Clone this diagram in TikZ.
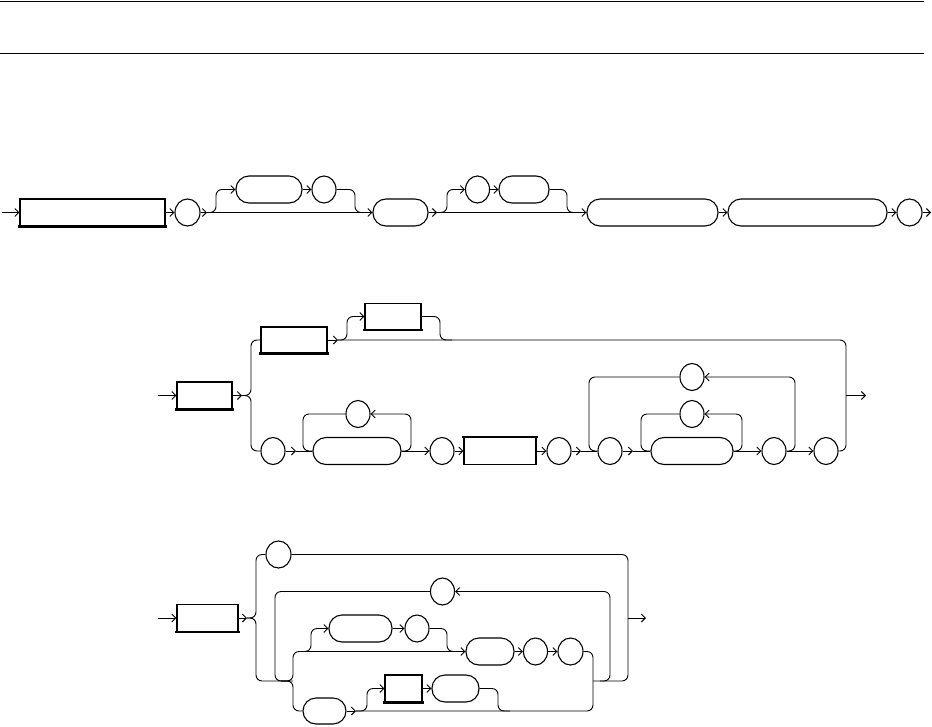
\documentclass[tikz,border=0pt]{standalone}
\usetikzlibrary{arrows.meta,shapes.geometric}
\begin{document}
\begin{tikzpicture}[x=1pt,y=-1pt]
\tikzset{
 base/.style={draw, line width=1.1pt, inner sep=0pt, minimum height=27pt, fill=white},
 nt/.style={base, rectangle},
 pill/.style={base, rectangle, rounded corners=13pt},
 circ/.style={base, ellipse, minimum width=25pt, minimum height=27pt},
 wire/.style={line width=0.9pt, rounded corners=6pt},
 arr/.style={-{Straight Barb[length=4pt,width=8pt]}},
 rule/.style={line width=1.2pt},
 heavy/.style={line width=2.4pt, line cap=rect}
}
\useasboundingbox (0,0) rectangle (932,726);
% header rules
\coordinate (h1a) at (0,1.5); \coordinate (h1b) at (924,1.5);
\coordinate (h2a) at (0,53.5); \coordinate (h2b) at (924,53.5);
\draw[rule] (h1a) -- (h1b);
\draw[rule] (h2a) -- (h2b);

% ---------------- diagram 1
\node[nt,minimum width=145pt] (a1) at (92.5,212.5) {};
\node[circ] (a2) at (187.5,212.5) {};
\node[pill,minimum width=66pt] (a3) at (269,189.5) {};
\node[circ,minimum width=24pt] (a4) at (324,189.5) {};
\node[pill,minimum width=55pt] (a5) at (400.5,212.5) {};
\node[circ,minimum width=24pt] (a6) at (477.5,189.5) {};
\node[pill,minimum width=50pt] (a7) at (524,189.5) {};
\node[pill,minimum width=131pt] (a8) at (652.5,212.5) {};
\node[pill,minimum width=159pt] (a9) at (807.5,212.5) {};
\node[circ] (a10) at (909.5,212.5) {};
\draw[heavy] (a1.south west) -- (a1.south east);
\coordinate (a0) at (2,212.5);
\coordinate (aE) at (931,212.5);
\coordinate (aj1) at (207,212.5);
\coordinate (aj2) at (437,212.5);
\draw[wire,arr] (a0) -- (a1.west);
\draw[wire,arr] (a1.east) -- (a2.west);
\draw[wire,arr] (a2.east) -- (aj1);
\draw[wire,arr] (aj1) -- (a5.west);
\draw[wire,arr] (aj1) -- (216,212.5) |- (a3.west);
\draw[wire,arr] (a3.east) -- (a4.west);
\draw[wire] (a4.east) -- (355,189.5) |- (a5.west);
\draw[wire,arr] (a5.east) -- (aj2);
\draw[wire,arr] (aj2) -- (a8.west);
\draw[wire,arr] (aj2) -- (447,212.5) |- (a6.west);
\draw[wire,arr] (a6.east) -- (a7.west);
\draw[wire] (a7.east) -- (567,189.5) |- (a8.west);
\draw[wire,arr] (a8.east) -- (a9.west);
\draw[wire,arr] (a9.east) -- (a10.west);
\draw[wire,arr] (a10.east) -- (aE);

% ---------------- diagram 2
\node[nt,minimum width=55pt] (b1) at (204.5,395.5) {};
\node[nt,minimum width=66pt,minimum height=26pt] (b2) at (294,340) {};
\node[nt,minimum width=56pt,minimum height=26pt] (b3) at (393,316.5) {};
\node[circ,minimum width=24pt] (b4) at (273,451) {};
\node[pill,minimum width=88pt] (b5) at (357,451) {};
\node[circ,minimum width=24pt] (b6) at (358,414) {};
\node[circ,minimum width=24pt] (b7) at (442,451) {};
\node[nt,minimum width=72pt,minimum height=27pt] (b8) at (500,451) {};
\node[circ,minimum width=24pt] (b9) at (559,451) {};
\node[circ,minimum width=24pt] (b10) at (610,451) {};
\node[pill,minimum width=82pt] (b11) at (692,451) {};
\node[circ,minimum width=24pt] (b12) at (692,414) {};
\node[circ,minimum width=24pt] (b13) at (692,377) {};
\node[circ,minimum width=24pt] (b14) at (774,451) {};
\node[circ,minimum width=24pt] (b15) at (826,451) {};
\draw[heavy] (b1.south west) -- (b1.south east);
\draw[heavy] (b2.south west) -- (b2.south east);
\draw[heavy] (b3.south west) -- (b3.south east);
\draw[heavy] (b8.north west) -- (b8.north east);
\coordinate (b0) at (158,395.5);
\coordinate (bj0) at (242,395.5);
\coordinate (bj1) at (338,340);
\coordinate (bj2) at (296,451);
\coordinate (bj3) at (581,451);
\coordinate (bj4) at (633,451);
\coordinate (bx) at (846,395.5);
\coordinate (bE) at (866,395.5);
\draw[wire,arr] (b0) -- (b1.west);
\draw[wire,arr] (b1.east) -- (bj0);
\draw[wire] (bj0) -- (251,395.5) |- (b2.west);
\draw[wire] (bj0) -- (251,395.5) |- (b4.west);
\draw[wire,arr] (b2.east) -- (bj1);
\draw[wire] (bj1) -- (846,340) |- (b15.east);
\draw[wire,arr] (bj1) -- (347,340) |- (b3.west);
\draw[wire] (b3.east) -- (440,316.5) |- (452,340);
\draw[wire,arr] (bx) -- (bE);
\draw[wire,arr] (b4.east) -- (bj2);
\draw[wire] (bj2) -- (b5.west);
\draw[wire,arr] (b5.east) -- (411,451) |- (b6.east);
\draw[wire] (b6.west) -- (303,414) |- (b5.west);
\draw[wire,arr] (b5.east) -- (b7.west);
\draw[wire,arr] (b7.east) -- (b8.west);
\draw[wire,arr] (b8.east) -- (b9.west);
\draw[wire,arr] (b9.east) -- (bj3);
\draw[wire] (bj3) -- (b10.west);
\draw[wire,arr] (b14.east) -- (795,451) |- (b13.east);
\draw[wire] (b13.west) -- (589,377) |- (b10.west);
\draw[wire,arr] (b10.east) -- (bj4);
\draw[wire] (bj4) -- (b11.west);
\draw[wire,arr] (b11.east) -- (742,451) |- (b12.east);
\draw[wire] (b12.west) -- (641,414) |- (b11.west);
\draw[wire,arr] (b11.east) -- (b14.west);
\draw[wire,arr] (b14.east) -- (b15.west);

% ---------------- diagram 3
\node[nt,minimum width=61pt] (c1) at (207.5,618) {};
\node[circ] (c2) at (278.5,554.5) {};
\node[circ,minimum width=24pt] (c3) at (442.5,591.5) {};
\node[pill,minimum width=63pt] (c4) at (360.5,628.5) {};
\node[circ,minimum width=24pt] (c5) at (417,628.5) {};
\node[pill,minimum width=48pt] (c6) at (490,651.5) {};
\node[circ,minimum width=24pt] (c7) at (535.5,651.5) {};
\node[circ] (c8) at (570.5,651.5) {};
\node[pill,minimum width=43pt,minimum height=26pt] (c9) at (324.5,711) {};
\node[nt,minimum width=37pt] (c10) at (403.5,688.5) {};
\node[pill,minimum width=47pt] (c11) at (455.5,688.5) {};
\draw[heavy] (c1.south west) -- (c1.south east);
\draw[heavy] (c10.south west) -- (c10.south east);
\coordinate (c0) at (158,618);
\coordinate (cj0) at (247,618);
\coordinate (cx) at (628,618);
\coordinate (cE) at (646,618);
\coordinate (cj1) at (356,711);
\coordinate (cr) at (593,711);
\draw[wire,arr] (c0) -- (c1.west);
\draw[wire,arr] (c1.east) -- (cj0);
\draw[wire] (cj0) -- (256,618) |- (c2.west);
\draw[wire] (cj0) -- (256,618) |- (293,681);
\draw[wire] (c2.east) -- (628,554.5) |- (593,681);
\draw[wire,arr] (cx) -- (cE);
\draw[wire,arr] (600,681) -- (610,681) |- (c3.east);
\draw[wire] (c3.west) -- (275,591.5) |- (287,681);
\draw[wire,arr] (281,681) -- (293,681) |- (c6.west);
\draw[wire] (281,681) -- (293,681) |- (c9.west);
\draw[wire,arr] (302,651.5) -- (311,651.5) |- (c4.west);
\draw[wire,arr] (c4.east) -- (c5.west);
\draw[wire] (c5.east) -- (447,628.5) |- (c6.west);
\draw[wire,arr] (c6.east) -- (c7.west);
\draw[wire,arr] (c7.east) -- (c8.west);
\draw[wire] (c8.east) -- (593,651.5) -- (cr) -- (cj1);
\draw[wire,arr] (c9.east) -- (cj1);
\draw[wire,arr] (cj1) -- (367,711) |- (c10.west);
\draw[wire,arr] (c10.east) -- (c11.west);
\draw[wire] (c11.east) -- (498,688.5) |- (510,711);
\end{tikzpicture}
\end{document}
